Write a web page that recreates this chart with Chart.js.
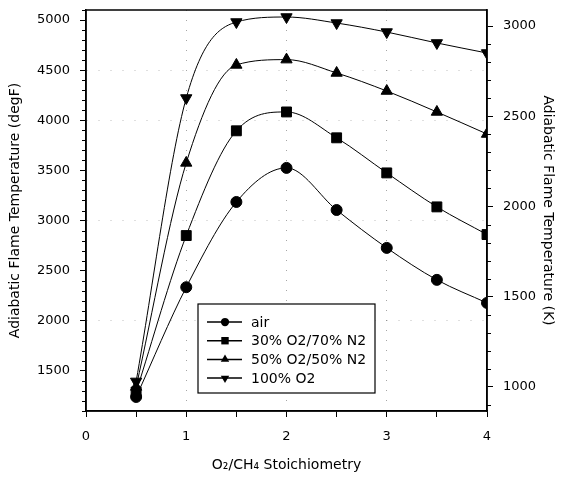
<!DOCTYPE html>
<html>
<head>
<meta charset="utf-8">
<script src="https://cdn.jsdelivr.net/npm/chart.js@4.4.1/dist/chart.umd.min.js"></script>
<style>
  html, body { margin: 0; padding: 0; background: #fff; }
  #wrap { width: 566px; height: 478px; }
</style>
</head>
<body>
<div id="wrap"><canvas id="flameChart"></canvas></div>
<script>
const stoich = [0.5, 1, 1.5, 2, 2.5, 3, 3.5, 4];
const airF = [1240, 2335, 3185, 3525, 3105, 2727, 2408, 2178];
const o2n2_30 = [1290, 2850, 3895, 4083, 3825, 3475, 3136, 2860];
const o2n2_50 = [1340, 3575, 4552, 4605, 4472, 4292, 4083, 3863];
const o2pure = [1395, 4222, 4980, 5030, 4970, 4880, 4771, 4671];
const seriesNames = ['air', '30% O2/70% N2', '50% O2/50% N2', '100% O2'];
const xLabels = [0, 1, 2, 3, 4];
const degFRange = [1100, 5100];
const degFTicks = [1500, 2000, 2500, 3000, 3500, 4000, 4500, 5000];
const kelvinTicks = [1000, 1500, 2000, 2500, 3000];

const toK = f => (f + 459.67) * 5 / 9;
const pts = arr => stoich.map((x, i) => ({x: x, y: arr[i]}));

const FONT = "'DejaVu Sans', sans-serif";

function mkSet(label, arr, style, r, rot) {
  return {
    label: label,
    data: pts(arr),
    yAxisID: 'y',
    borderColor: '#000',
    borderWidth: 1,
    backgroundColor: '#000',
    pointStyle: style,
    pointRadius: r,
    pointHoverRadius: r,
    pointRotation: rot || 0,
    cubicInterpolationMode: 'monotone',
    fill: false
  };
}

// minor ticks + frame
const frameTicks = {
  id: 'frameTicks',
  afterDraw(chart) {
    const {ctx, chartArea: a, scales} = chart;
    ctx.save();
    ctx.strokeStyle = '#000';
    ctx.lineWidth = 1;
    ctx.beginPath();
    for (let v = degFRange[0]; v <= degFRange[1]; v += 100) {
      if (v % 500 === 0) continue;
      const y = Math.round(scales.y.getPixelForValue(v)) + 0.5;
      ctx.moveTo(a.left, y); ctx.lineTo(a.left - 4, y);
    }
    for (let v = 900; v <= 3000; v += 100) {
      if (v % 500 === 0) continue;
      const y = Math.round(scales.yK.getPixelForValue(v)) + 0.5;
      ctx.moveTo(a.right, y); ctx.lineTo(a.right + 4, y);
    }
    ctx.stroke();
    ctx.lineWidth = 1.5;
    ctx.strokeRect(a.left, a.top, a.right - a.left, a.bottom - a.top);
    ctx.restore();
  }
};

// boxed legend with line + marker samples
const boxLegend = {
  id: 'boxLegend',
  afterDraw(chart) {
    const {ctx, chartArea: a} = chart;
    const bx = a.left + 112, by = a.top + 294, bw = 177, bh = 89;
    ctx.save();
    ctx.fillStyle = '#fff';
    ctx.fillRect(bx, by, bw, bh);
    ctx.strokeStyle = '#000';
    ctx.lineWidth = 1.2;
    ctx.strokeRect(bx, by, bw, bh);
    ctx.font = '14px ' + FONT;
    ctx.textBaseline = 'middle';
    chart.data.datasets.forEach((ds, i) => {
      const y = by + 18 + i * 18.7;
      ctx.strokeStyle = '#000';
      ctx.lineWidth = 1.5;
      ctx.beginPath();
      ctx.moveTo(bx + 9, y); ctx.lineTo(bx + 44, y);
      ctx.stroke();
      ctx.fillStyle = '#000';
      Chart.helpers.drawPoint(ctx, {
        pointStyle: ds.pointStyle, radius: ds.pointRadius * 0.75,
        rotation: ds.pointRotation, borderWidth: 0
      }, bx + 27, y);
      ctx.fillStyle = '#000';
      ctx.fillText(ds.label, bx + 53, y + 1);
    });
    ctx.restore();
  }
};

const noPad = s => { s.paddingTop = 0; s.paddingBottom = 0; };

new Chart(document.getElementById('flameChart'), {
  type: 'line',
  data: {
    datasets: [
      mkSet(seriesNames[0], airF, 'circle', 5.5),
      mkSet(seriesNames[1], o2n2_30, 'rect', 7),
      mkSet(seriesNames[2], o2n2_50, 'triangle', 6.5),
      mkSet(seriesNames[3], o2pure, 'triangle', 6.5, 180)
    ]
  },
  options: {
    responsive: true,
    maintainAspectRatio: false,
    animation: false,
    layout: { padding: { top: 10, left: 0, right: 0, bottom: 0 } },
    plugins: {
      legend: { display: false },
      tooltip: { enabled: false }
    },
    scales: {
      x: {
        type: 'linear',
        min: 0, max: 4,
        afterFit: s => { s.height = 67; },
        ticks: {
          stepSize: 0.5,
          padding: 12,
          color: '#000',
          font: { family: FONT, size: 13 },
          maxRotation: 0,
          autoSkip: false,
          callback: v => xLabels.includes(v) ? String(v) : ''
        },
        grid: {
          drawOnChartArea: true,
          tickLength: 6,
          tickColor: '#000',
          color: c => (c.tick && [1, 2, 3].includes(c.tick.value)) ? 'rgba(0,0,0,0.35)' : 'rgba(0,0,0,0)'
        },
        border: { display: true, color: '#000', width: 1.5, dash: [1, 9] },
        title: {
          display: true,
          text: 'O\u2082/CH\u2084 Stoichiometry',
          color: '#000',
          font: { family: FONT, size: 14 },
          padding: { top: 0, bottom: 4 }
        }
      },
      y: {
        type: 'linear',
        position: 'left',
        min: degFRange[0], max: degFRange[1],
        afterFit: s => { s.width = 86; noPad(s); },
        afterBuildTicks: s => { s.ticks = degFTicks.map(v => ({value: v})); },
        ticks: {
          padding: 10,
          color: '#000',
          font: { family: FONT, size: 13 },
          callback: v => String(v)
        },
        grid: {
          tickLength: 6,
          tickColor: '#000',
          color: c => (c.tick && [2000, 3000, 4000, 4500].includes(c.tick.value)) ? 'rgba(0,0,0,0.25)' : 'rgba(0,0,0,0)'
        },
        border: { display: true, color: '#000', width: 1.5, dash: [1, 11] },
        title: {
          display: true,
          text: 'Adiabatic Flame Temperature (degF)',
          color: '#000',
          font: { family: FONT, size: 14 },
          padding: { top: 7, bottom: 0 }
        }
      },
      yK: {
        type: 'linear',
        position: 'right',
        min: toK(degFRange[0]), max: toK(degFRange[1]),
        afterFit: s => { s.width = 79; noPad(s); },
        afterBuildTicks: s => { s.ticks = kelvinTicks.map(v => ({value: v})); },
        ticks: {
          padding: 10,
          color: '#000',
          font: { family: FONT, size: 13 },
          callback: v => String(v)
        },
        grid: { drawOnChartArea: false, tickLength: 6, tickColor: '#000' },
        border: { display: true, color: '#000', width: 1.5 },
        title: {
          display: true,
          text: 'Adiabatic Flame Temperature (K)',
          color: '#000',
          font: { family: FONT, size: 14 },
          padding: { top: 10, bottom: 0 }
        }
      }
    }
  },
  plugins: [frameTicks, boxLegend]
});
</script>
</body>
</html>
